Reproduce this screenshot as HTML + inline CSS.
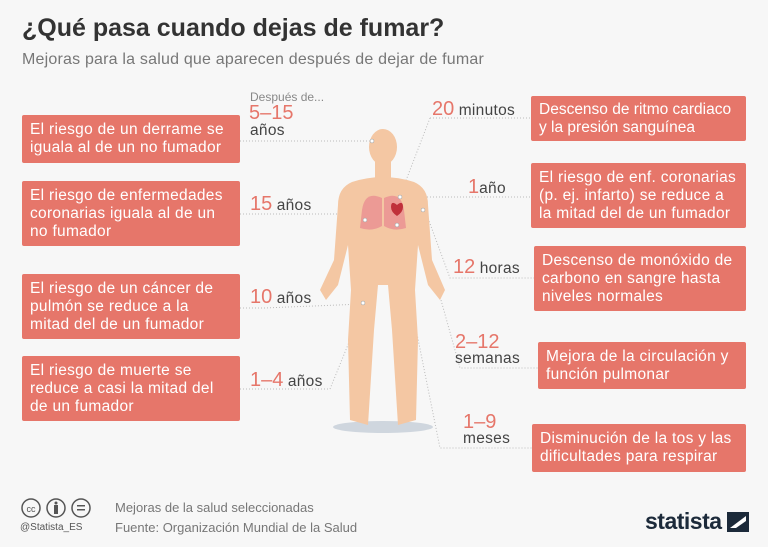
<!DOCTYPE html>
<html><head><meta charset="utf-8"><style>
body{margin:0;width:768px;height:547px;background:#f7f7f7;font-family:"Liberation Sans","DejaVu Sans",sans-serif;position:relative;overflow:hidden}
.a{position:absolute}
.box{position:absolute;background:#e6766a;color:#fff;font-size:15.5px;letter-spacing:0.3px;line-height:18px;padding:0 8px;box-sizing:border-box;display:flex;align-items:center;border-radius:2px}
.n{color:#e6766a;font-size:20px}
.l{color:#444;font-size:15.5px;letter-spacing:0.3px}
</style></head><body>
<div class="a" style="left:22px;top:14px;font-size:25px;font-weight:bold;color:#333">¿Qué pasa cuando dejas de fumar?</div>
<div class="a" style="left:22px;top:51px;font-size:16px;color:#777;letter-spacing:0.2px">Mejoras para la salud que aparecen después de dejar de fumar</div>

<svg class="a" style="left:0;top:0" width="768" height="547">
<g stroke="#bbb" stroke-dasharray="1,2" fill="none">
<path d="M240,141 H372"/><path d="M240,214 H370"/><path d="M240,308 H265 L362,304"/><path d="M240,389 H330 L365,303"/>
<path d="M430,118 H532 M430,118 L400,196"/><path d="M400,197 H532"/><path d="M425,210 L450,278 H534"/><path d="M420,225 L460,368 H538"/><path d="M395,225 L440,448 H532"/>
</g>
<ellipse cx="383" cy="427" rx="50" ry="6" fill="#cfd6de"/>
<g fill="#f4c7a3">
<ellipse cx="383" cy="147" rx="14" ry="18"/>
<rect x="375" y="160" width="16" height="20"/>
<path d="M352,182 Q383,172 414,182 Q428,188 428,205 L432,260 L445,290 L440,300 L428,285 L418,245 L415,290 L418,340 L416,420 L398,425 L392,330 L388,285 L378,285 L374,330 L368,425 L350,420 L348,340 L351,290 L348,245 L338,285 L326,300 L320,290 L334,260 L338,205 Q338,188 352,182 Z"/>
</g>
<path d="M382,198 Q365,190 362,210 L360,228 Q372,232 382,226 Z" fill="#ec9a95"/>
<path d="M384,198 Q401,190 404,210 L406,228 Q394,232 384,226 Z" fill="#ec9a95"/>
<path d="M397,205 q-6,-5 -6,2 q0,5 6,9 q6,-4 6,-9 q0,-7 -6,-2z" fill="#c0303a"/>
<g fill="#fff" stroke="#999" stroke-width="0.5"><circle cx="372" cy="141" r="2"/><circle cx="400" cy="197" r="2"/><circle cx="365" cy="220" r="2"/><circle cx="397" cy="225" r="2"/><circle cx="423" cy="210" r="2"/><circle cx="363" cy="303" r="2"/></g>
</svg>

<div class="a" style="left:250px;top:90px;font-size:12px;color:#888">Después de...</div>
<div class="a n" style="left:249px;top:104px;line-height:19px">5–15</div>
<div class="a l" style="left:250px;top:122px">años</div>
<div class="a" style="left:250px;top:193px"><span class="n">15</span> <span class="l">años</span></div>
<div class="a" style="left:250px;top:286px"><span class="n">10</span> <span class="l">años</span></div>
<div class="a" style="left:250px;top:369px"><span class="n">1–4</span> <span class="l">años</span></div>

<div class="a" style="left:432px;top:98px"><span class="n">20</span> <span class="l">minutos</span></div>
<div class="a" style="left:468px;top:176px"><span class="n">1</span><span class="l">año</span></div>
<div class="a" style="left:453px;top:256px"><span class="n">12</span> <span class="l">horas</span></div>
<div class="a n" style="left:455px;top:333px;line-height:19px">2–12</div>
<div class="a l" style="left:455px;top:350px">semanas</div>
<div class="a n" style="left:463px;top:413px;line-height:19px">1–9</div>
<div class="a l" style="left:463px;top:430px">meses</div>

<div class="box" style="left:22px;top:115px;width:218px;height:48px">El riesgo de un derrame se iguala al de un no fumador</div>
<div class="box" style="left:22px;top:181px;width:218px;height:65px">El riesgo de enfermedades coronarias iguala al de un no fumador</div>
<div class="box" style="left:22px;top:274px;width:218px;height:65px">El riesgo de un cáncer de pulmón se reduce a la mitad del de un fumador</div>
<div class="box" style="left:22px;top:356px;width:218px;height:65px">El riesgo de muerte se reduce a casi la mitad del de un fumador</div>

<div class="box" style="left:531px;top:96px;width:215px;height:45px;letter-spacing:0px">Descenso de ritmo cardiaco y la presión sanguínea</div>
<div class="box" style="left:531px;top:163px;width:215px;height:65px">El riesgo de enf. coronarias (p. ej. infarto) se reduce a la mitad del de un fumador</div>
<div class="box" style="left:534px;top:246px;width:212px;height:65px">Descenso de monóxido de carbono en sangre hasta niveles normales</div>
<div class="box" style="left:538px;top:342px;width:208px;height:47px">Mejora de la circulación y función pulmonar</div>
<div class="box" style="left:532px;top:424px;width:214px;height:48px">Disminución de la tos y las dificultades para respirar</div>

<svg class="a" style="left:20px;top:497px" width="75" height="22">
<g fill="none" stroke="#555" stroke-width="1.5"><circle cx="11" cy="11" r="9"/><circle cx="36" cy="11" r="9"/><circle cx="61" cy="11" r="9"/></g>
<text x="11" y="15" font-size="9" text-anchor="middle" fill="#555" font-family="Liberation Sans">cc</text>
<rect x="34" y="8" width="4" height="9" fill="#555"/><circle cx="36" cy="6" r="1.5" fill="#555"/>
<rect x="57" y="8" width="8" height="1.5" fill="#555"/><rect x="57" y="12" width="8" height="1.5" fill="#555"/>
</svg>
<div class="a" style="left:20px;top:522px;font-size:10px;color:#555">@Statista_ES</div>
<div class="a" style="left:115px;top:500px;font-size:13px;color:#777">Mejoras de la salud seleccionadas</div>
<div class="a" style="left:115px;top:520px;font-size:13px;color:#777">Fuente: Organización Mundial de la Salud</div>
<div class="a" style="left:645px;top:508px;font-size:23px;font-weight:bold;color:#1c2a3a;letter-spacing:-0.5px">statista</div>
<svg class="a" style="left:727px;top:512px" width="22" height="20"><rect width="22" height="20" fill="#1c2a3a"/><path d="M3,16 L19,4 L19,9 L9,16Z" fill="#fff"/></svg>
</body></html>
